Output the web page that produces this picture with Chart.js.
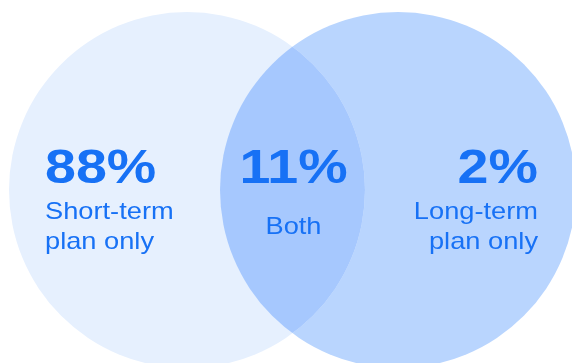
<!DOCTYPE html>
<html>
<head>
<meta charset="utf-8">
<script src="https://cdn.jsdelivr.net/npm/chart.js@4.4.1/dist/chart.umd.min.js"></script>
<style>
  html, body { margin: 0; padding: 0; background: #fff; }
  #venn { display: block; }
</style>
</head>
<body>
<canvas id="venn" width="572" height="363"></canvas>
<script>
'use strict';

/* --------------------------------------------------------------------------
   DATA
   -------------------------------------------------------------------------- */
const setNames   = ['Short-term plan', 'Long-term plan'];
const shares     = [88, 11, 2];                          // short only, both, long only
const labelLines = [['Short-term', 'plan only'], ['Both'], ['Long-term', 'plan only']];

/* --------------------------------------------------------------------------
   LAYOUT (pixel space == scale space)
   -------------------------------------------------------------------------- */
const W = 572, H = 363;
const circles = [
    { x: 187, y: 190, r: 178 },
    { x: 398, y: 190, r: 178 },
];
const fills = { left: '#E6F0FE', right: '#B9D5FE', both: '#A6C8FE' };
const TEXT = '#1771F5';
const FONT = '"Liberation Sans", Arial, sans-serif';
const STRETCH = 1.135; // reference typeface is wider than Arial

// draw text horizontally stretched around its anchor
function wideText(ctx, str, x, y, align) {
    ctx.save();
    ctx.translate(x, y);
    ctx.scale(STRETCH, 1);
    ctx.textAlign = align;
    ctx.fillText(str, 0, 0);
    ctx.restore();
}

/* --------------------------------------------------------------------------
   PLUGIN — overlap lens + region labels
   -------------------------------------------------------------------------- */
const vennPlugin = {
    id: 'venn',
    afterDatasetsDraw(chart) {
        const ctx = chart.ctx;
        const a = chart.getDatasetMeta(0).data[0];
        const b = chart.getDatasetMeta(1).data[0];
        const ra = a.options.radius, rb = b.options.radius;

        // lens: clip to circle A, fill circle B
        ctx.save();
        ctx.beginPath();
        ctx.arc(a.x, a.y, ra, 0, Math.PI * 2);
        ctx.clip();
        ctx.beginPath();
        ctx.arc(b.x, b.y, rb, 0, Math.PI * 2);
        ctx.fillStyle = fills.both;
        ctx.fill();
        ctx.restore();

        const leftEdgeB = b.x - rb, rightEdgeA = a.x + ra;
        const spots = [
            { x: a.x - 142, align: 'left' },
            { x: (leftEdgeB + rightEdgeA) / 2 + 1, align: 'center' },
            { x: b.x + 140, align: 'right' },
        ];
        const numBase = 183;

        ctx.save();
        ctx.fillStyle = TEXT;
        ctx.textBaseline = 'alphabetic';
        shares.forEach((v, i) => {
            const s = spots[i];
            ctx.font = `700 49px ${FONT}`;
            wideText(ctx, v + '%', s.x, numBase, s.align);
            ctx.font = `400 24px ${FONT}`;
            const lines = labelLines[i];
            if (lines.length === 1) {
                wideText(ctx, lines[0], s.x, numBase + 51, s.align);
            } else {
                lines.forEach((t, j) => wideText(ctx, t, s.x, numBase + 36 + j * 30, s.align));
            }
        });
        ctx.restore();
    },
};

/* --------------------------------------------------------------------------
   CHART
   -------------------------------------------------------------------------- */
const ctx = document.getElementById('venn').getContext('2d');
new Chart(ctx, {
    type: 'bubble',
    data: {
        datasets: setNames.map((name, i) => ({
            label: name,
            data: [circles[i]],
            backgroundColor: i === 0 ? fills.left : fills.right,
            borderWidth: 0,
            hoverRadius: 0,
        })),
    },
    options: {
        responsive: false,
        animation: false,
        events: [],
        layout: { padding: 0, autoPadding: false },
        plugins: { legend: { display: false }, tooltip: { enabled: false } },
        scales: {
            x: { type: 'linear', display: false, min: 0, max: W },
            y: { type: 'linear', display: false, min: 0, max: H, reverse: true },
        },
        clip: false,
    },
    plugins: [vennPlugin],
});
</script>
</body>
</html>
